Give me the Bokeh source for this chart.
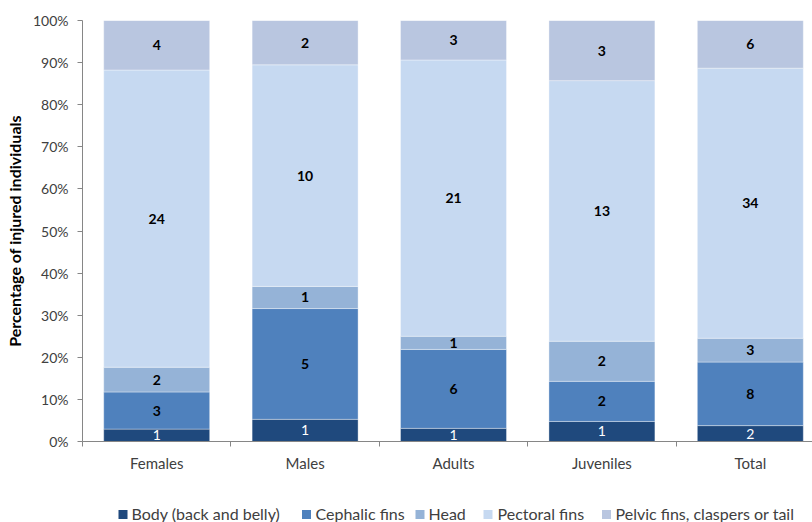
from bokeh.plotting import figure
from bokeh.layouts import column
from bokeh.models import ColumnDataSource, Range1d, FixedTicker, NumeralTickFormatter
from bokeh.core.properties import value
from bokeh.embed import file_html
from bokeh.resources import INLINE

# Injury counts per body region, by group
groups = ["Females", "Males", "Adults", "Juveniles", "Total"]
regions = ["Body (back and belly)", "Cephalic fins", "Head", "Pectoral fins",
           "Pelvic fins, claspers or tail"]
body = [1, 1, 1, 1, 2]
cephalic = [3, 5, 6, 2, 8]
head = [2, 1, 1, 2, 3]
pectoral = [24, 10, 21, 13, 34]
pelvic = [4, 2, 3, 3, 6]
y_ticks = [0, 0.1, 0.2, 0.3, 0.4, 0.5, 0.6, 0.7, 0.8, 0.9, 1.0]

colors = ["#1F497D", "#4F81BD", "#95B3D7", "#C6D9F1", "#B9C6E0"]
FONT = "Lato"
TEXT = "#404040"
AXIS = "#868686"

series = [body, cephalic, head, pectoral, pelvic]
totals = [sum(v) for v in zip(*series)]
xs = [i + 0.5 for i in range(len(groups))]

p = figure(width=812, height=492, output_backend="svg", toolbar_location=None,
           x_range=Range1d(0, 4.919), y_range=Range1d(0, 1),
           min_border_left=82, min_border_right=0, min_border_top=20,
           min_border_bottom=51)
p.outline_line_color = None
p.xgrid.visible = False
p.ygrid.visible = False

bottoms = [0.0] * len(groups)
for k, vals in enumerate(series):
    fr = [v / t for v, t in zip(vals, totals)]
    tops = [b + f for b, f in zip(bottoms, fr)]
    mids = [(b + t) / 2 for b, t in zip(bottoms, tops)]
    src = ColumnDataSource(dict(x=xs, bottom=bottoms, top=tops, mid=mids,
                                label=[str(v) for v in vals]))
    p.vbar(x="x", width=0.714, bottom="bottom", top="top", source=src,
           fill_color=colors[k], line_color="white", line_width=0.6,
           line_alpha=0.6)
    if k == 0:
        p.text(x="x", y="mid", text="label", source=src, text_align="center",
               text_baseline="middle", text_color="white",
               text_font=value(FONT), text_font_size="14px")
    else:
        p.text(x="x", y="mid", text="label", source=src, text_align="center",
               text_baseline="middle", text_color="black",
               text_font=value(FONT), text_font_size="14px",
               text_font_style="bold")
    bottoms = tops

# y axis
p.yaxis.ticker = FixedTicker(ticks=y_ticks)
p.yaxis.formatter = NumeralTickFormatter(format="0%")
p.yaxis.axis_label = "Percentage of injured individuals"
p.yaxis.axis_label_text_font = FONT
p.yaxis.axis_label_text_font_style = "bold"
p.yaxis.axis_label_text_font_size = "16px"
p.yaxis.axis_label_text_color = "black"
p.yaxis.axis_label_standoff = 6
p.yaxis.major_label_text_font = FONT
p.yaxis.major_label_text_font_size = "14px"
p.yaxis.major_label_text_color = TEXT
p.yaxis.major_label_standoff = 9
p.yaxis.axis_line_color = AXIS
p.yaxis.major_tick_line_color = AXIS
p.yaxis.major_tick_out = 5
p.yaxis.major_tick_in = 0
p.yaxis.minor_tick_line_color = None

# x axis: labels at group centres, tick marks at group boundaries
p.xaxis.ticker = FixedTicker(ticks=xs, minor_ticks=list(range(len(groups))))
p.xaxis.major_label_overrides = {x: g for x, g in zip(xs, groups)}
p.xaxis.major_label_text_font = FONT
p.xaxis.major_label_text_font_size = "15px"
p.xaxis.major_label_text_color = TEXT
p.xaxis.major_label_standoff = 7
p.xaxis.axis_line_color = AXIS
p.xaxis.major_tick_line_color = None
p.xaxis.major_tick_out = 5
p.xaxis.major_tick_in = 0
p.xaxis.minor_tick_line_color = AXIS
p.xaxis.minor_tick_out = 5
p.xaxis.minor_tick_in = 0

# legend strip under the chart; its frame lines up with the chart frame,
# so the x range is given in page pixels (82..812)
key_x = [122.5, 306, 419.5, 487.5, 606]   # key square centres
label_x = [131, 315, 428, 497, 615]       # label left edges
lg = figure(width=812, height=30, output_backend="svg", toolbar_location=None,
            x_range=Range1d(82, 812), y_range=Range1d(0, 30),
            x_axis_type=None, y_axis_type=None, title=None,
            min_border_left=0, min_border_right=0, min_border_top=0,
            min_border_bottom=0)
lg.outline_line_color = None
lg.xgrid.visible = False
lg.ygrid.visible = False
lg.rect(x=key_x, y=[8] * len(regions), width=9, height=9,
        width_units="screen", height_units="screen",
        fill_color=colors, line_color=None)
lg.text(x=label_x, y=[9] * len(regions), text=regions, text_align="left",
        text_baseline="middle", text_color=TEXT, text_font=value(FONT),
        text_font_size="16px")

open("out.html", "w").write(file_html(column(p, lg, spacing=0), INLINE))
